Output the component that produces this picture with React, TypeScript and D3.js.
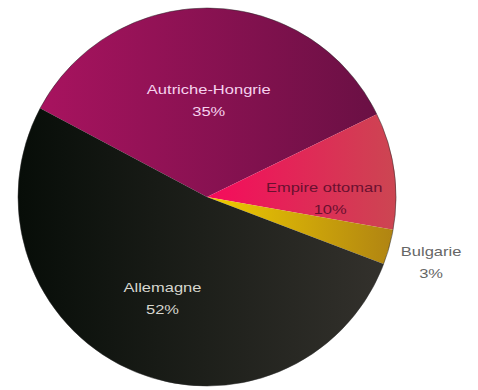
import React from "react";
import * as d3 from "d3";

const categories = ["Autriche-Hongrie", "Empire ottoman", "Bulgarie", "Allemagne"];
const values = [35, 10, 3, 52];
const percentLabels = ["35%", "10%", "3%", "52%"];

const W = 478;
const H = 390;
const cx = 207;
const cy = 197;
const R = 189;

const gradients: Record<string, [string, string]> = {
  "Autriche-Hongrie": ["#a8135f", "#6a1044"],
  "Empire ottoman": ["#f60a5c", "#cc4652"],
  "Bulgarie": ["#f0cc00", "#b08412"],
  "Allemagne": ["#070d08", "#33312c"],
};
const textColors: Record<string, string> = {
  "Autriche-Hongrie": "#f6d2ee",
  "Empire ottoman": "#6a1030",
  "Bulgarie": "#666666",
  "Allemagne": "#d6d6ce",
};
const labelRadius: Record<string, number> = {
  "Autriche-Hongrie": 0.53,
  "Empire ottoman": 0.62,
  "Bulgarie": 1.23,
  "Allemagne": 0.57,
};
const labelAngleShift: Record<string, number> = {
  "Autriche-Hongrie": 0,
  "Empire ottoman": 7,
  "Bulgarie": 0,
  "Allemagne": 0,
};

export default function App() {
  const data = categories.map((c, i) => ({ name: c, value: values[i], pct: percentLabels[i] }));
  const start = (-62 * Math.PI) / 180;
  const pie = d3
    .pie<any>()
    .sort(null)
    .value((d) => d.value)
    .startAngle(start)
    .endAngle(start + 2 * Math.PI);
  const arcs = pie(data);
  const arc = d3.arc<any>().innerRadius(0).outerRadius(R);

  return (
    <svg
      width={W}
      height={H}
      style={{ position: "absolute", left: 0, top: 0, background: "#ffffff" }}
      fontFamily="'Liberation Sans', Arial, sans-serif"
    >
      <defs>
        {arcs.map((a, i) => (
          <linearGradient key={i} id={`g${i}`} x1="0" y1="0" x2="1" y2="0">
            <stop offset="0" stopColor={gradients[a.data.name][0]} />
            <stop offset="1" stopColor={gradients[a.data.name][1]} />
          </linearGradient>
        ))}
      </defs>
      <g transform={`translate(${cx},${cy})`}>
        {arcs.map((a, i) => (
          <path key={i} d={arc(a) as string} fill={`url(#g${i})`} />
        ))}
        <circle r={R} fill="none" stroke="#2a2a2a" strokeOpacity={0.5} strokeWidth={1} />
        {arcs.map((a, i) => {
          const mid = (a.startAngle + a.endAngle) / 2 + (labelAngleShift[a.data.name] * Math.PI) / 180;
          const lr = R * labelRadius[a.data.name];
          const x = Math.sin(mid) * lr;
          const y = -Math.cos(mid) * lr;
          const col = textColors[a.data.name];
          return (
            <g key={i} fill={col} fontSize={13} textAnchor="middle">
              <text transform={`translate(${x},${y - 3}) scale(1.27,1)`}>{a.data.name}</text>
              <text transform={`translate(${x + (a.data.name === "Empire ottoman" ? 6 : 0)},${y + 19}) scale(1.27,1)`}>{a.data.pct}</text>
            </g>
          );
        })}
      </g>
    </svg>
  );
}
